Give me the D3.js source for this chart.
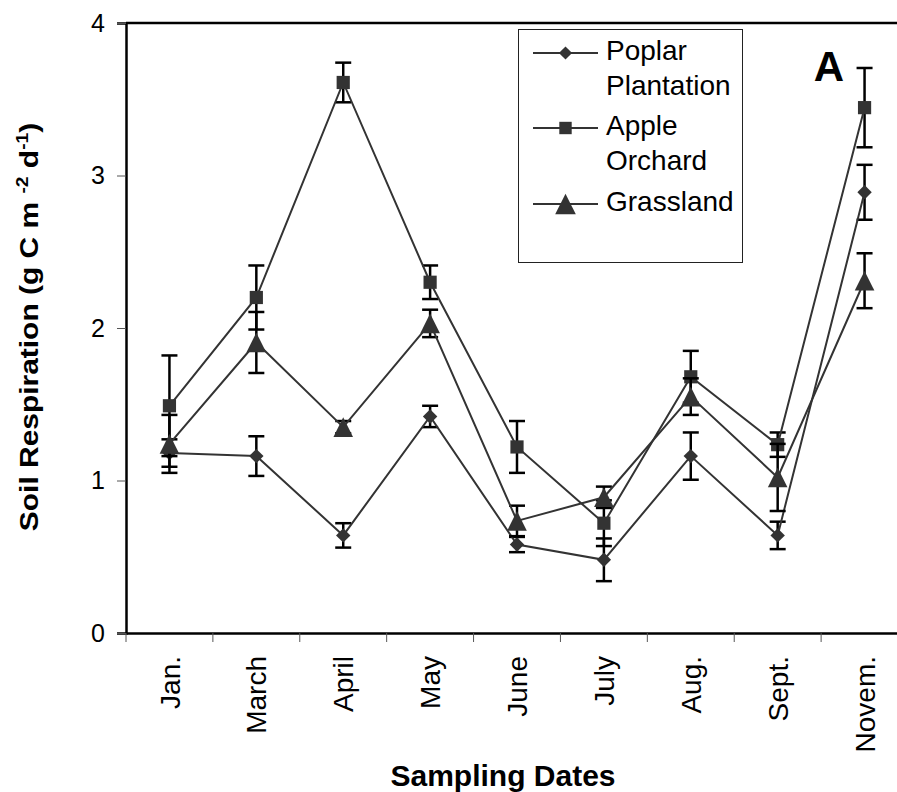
<!DOCTYPE html>
<html>
<head>
<meta charset="utf-8">
<script src="https://cdn.jsdelivr.net/npm/d3@7"></script>
<style>
  body { margin: 0; background: #fff; }
  svg { display: block; font-family: "Liberation Sans", Arial, sans-serif; }
</style>
</head>
<body>
<svg id="chart"></svg>
<script>
// sampling months and the three land uses
const months = ["Jan.", "March", "April", "May", "June", "July", "Aug.", "Sept.", "Novem."];
const poplar = [1.18, 1.16, 0.64, 1.42, 0.58, 0.48, 1.16, 0.64, 2.89];
const poplarErr = [0.09, 0.13, 0.08, 0.07, 0.05, 0.14, 0.155, 0.09, 0.18];
const apple = [1.49, 2.20, 3.61, 2.30, 1.22, 0.72, 1.68, 1.235, 3.445];
const appleErr = [0.33, 0.21, 0.13, 0.11, 0.17, 0.15, 0.17, 0.08, 0.26];
const grass = [1.24, 1.905, 1.35, 2.03, 0.735, 0.89, 1.55, 1.02, 2.31];
const grassErr = [0.19, 0.20, 0.04, 0.09, 0.10, 0.07, 0.12, 0.22, 0.18];
const yTicks = [0, 1, 2, 3, 4];

const width = 897, height = 792;
const plotLeft = 126, plotRight = 908, plotTop = 23, plotBottom = 633;
const ink = "#333";

const svg = d3.select("#chart")
    .attr("width", width)
    .attr("height", height);

const x = d3.scaleBand().domain(months).range([plotLeft, plotRight]);
const y = d3.scaleLinear().domain([0, 4]).range([plotBottom, plotTop]);

// custom marker shapes, centred on their bounding box like the original
const diamond = { draw(ctx, s) { ctx.moveTo(0, -s); ctx.lineTo(s, 0); ctx.lineTo(0, s); ctx.lineTo(-s, 0); ctx.closePath(); } };
const square = { draw(ctx, s) { ctx.rect(-s, -s, 2 * s, 2 * s); } };
const triangle = { draw(ctx, s) { ctx.moveTo(0, -s); ctx.lineTo(s, s); ctx.lineTo(-s, s); ctx.closePath(); } };

const series = [
    { name: ["Poplar", "Plantation"], values: poplar, err: poplarErr, shape: diamond, size: 7.2, legSize: 6.6 },
    { name: ["Apple", "Orchard"], values: apple, err: appleErr, shape: square, size: 6.6, legSize: 6.2 },
    { name: ["Grassland"], values: grass, err: grassErr, shape: triangle, size: 9.8, legSize: 10.3 }
];

// top border of the plot area
svg.append("line")
    .attr("x1", plotLeft).attr("x2", width)
    .attr("y1", y(4)).attr("y2", y(4))
    .attr("stroke", "#000").attr("stroke-width", 2.5);

// y axis
const yAxis = svg.append("g")
    .attr("transform", `translate(${plotLeft},0)`)
    .call(d3.axisLeft(y).tickValues(yTicks).tickSize(9).tickPadding(12).tickFormat(d3.format("d")));
yAxis.select(".domain").attr("stroke", "#000").attr("stroke-width", 2.5);
yAxis.selectAll(".tick line").attr("stroke", "#555").attr("stroke-width", 1);
yAxis.selectAll(".tick text").style("font-size", "25px").attr("fill", "#000");

// x axis: ticks between categories, pointing down
const xAxis = svg.append("g")
    .attr("transform", `translate(0,${plotBottom})`)
    .call(d3.axisBottom(x).tickSize(0).tickFormat(""));
xAxis.select(".domain").attr("stroke", "#000").attr("stroke-width", 2.5);
xAxis.selectAll(".tick").remove();

svg.append("g").selectAll("line")
    .data(months)
    .join("line")
    .attr("x1", d => x(d)).attr("x2", d => x(d))
    .attr("y1", plotBottom).attr("y2", plotBottom + 9)
    .attr("stroke", "#555").attr("stroke-width", 1);

svg.append("g").selectAll("text")
    .data(months)
    .join("text")
    .attr("transform", d => `translate(${x(d) + x.bandwidth() / 2},${plotBottom + 23}) rotate(-90)`)
    .attr("dy", "0.36em")
    .attr("text-anchor", "end")
    .style("font-size", "28px")
    .text(d => d);

// series: error bars, line, markers
const cx = i => x(months[i]) + x.bandwidth() / 2;
const line = d3.line().x((d, i) => cx(i)).y(d => y(d));

series.forEach(s => {
    const g = svg.append("g");
    const eb = g.append("g").attr("stroke", "#000").attr("stroke-width", 2.5);
    s.values.forEach((v, i) => {
        const lo = y(v - s.err[i]), hi = y(v + s.err[i]);
        eb.append("line").attr("x1", cx(i)).attr("x2", cx(i)).attr("y1", lo).attr("y2", hi);
        eb.append("line").attr("x1", cx(i) - 8).attr("x2", cx(i) + 8).attr("y1", lo).attr("y2", lo);
        eb.append("line").attr("x1", cx(i) - 8).attr("x2", cx(i) + 8).attr("y1", hi).attr("y2", hi);
    });
    g.append("path")
        .datum(s.values)
        .attr("d", line)
        .attr("fill", "none")
        .attr("stroke", ink)
        .attr("stroke-width", 2);
    g.selectAll(".mk")
        .data(s.values)
        .join("path")
        .attr("transform", (d, i) => `translate(${cx(i)},${y(d)})`)
        .attr("d", d3.symbol().type(s.shape).size(s.size))
        .attr("fill", ink);
});

// legend
const legend = svg.append("g");
legend.append("rect")
    .attr("x", 518.5).attr("y", 29.5)
    .attr("width", 224).attr("height", 233)
    .attr("fill", "#fff")
    .attr("stroke", "#222").attr("stroke-width", 1);

const legRows = [53, 128, 204];
series.forEach((s, k) => {
    const ly = legRows[k];
    legend.append("line")
        .attr("x1", 533).attr("x2", 598)
        .attr("y1", ly).attr("y2", ly)
        .attr("stroke", ink).attr("stroke-width", 2);
    legend.append("path")
        .attr("transform", `translate(565.5,${ly})`)
        .attr("d", d3.symbol().type(s.shape).size(s.legSize))
        .attr("fill", ink);
    s.name.forEach((t, j) => {
        legend.append("text")
            .attr("x", 606)
            .attr("y", ly + 7 + j * 35)
            .style("font-size", "28px")
            .text(t);
    });
});

// panel letter
svg.append("text")
    .attr("x", 829).attr("y", 81)
    .attr("text-anchor", "middle")
    .style("font-size", "42px")
    .style("font-weight", "bold")
    .text("A");

// axis titles
svg.append("text")
    .attr("x", 503).attr("y", 786)
    .attr("text-anchor", "middle")
    .style("font-size", "30px")
    .style("font-weight", "bold")
    .text("Sampling Dates");

// the original y title is stretched along its length
const yTitle = svg.append("text")
    .attr("transform", "translate(38,327) rotate(-90) scale(1.13,1)")
    .attr("text-anchor", "middle")
    .style("font-size", "26.5px")
    .style("font-weight", "bold");
yTitle.append("tspan").text("Soil Respiration (g C m ");
yTitle.append("tspan").attr("dy", -10).style("font-size", "17px").text("-2");
yTitle.append("tspan").attr("dy", 10).text(" d");
yTitle.append("tspan").attr("dy", -10).style("font-size", "17px").text("-1");
yTitle.append("tspan").attr("dy", 10).text(")");
</script>
</body>
</html>
